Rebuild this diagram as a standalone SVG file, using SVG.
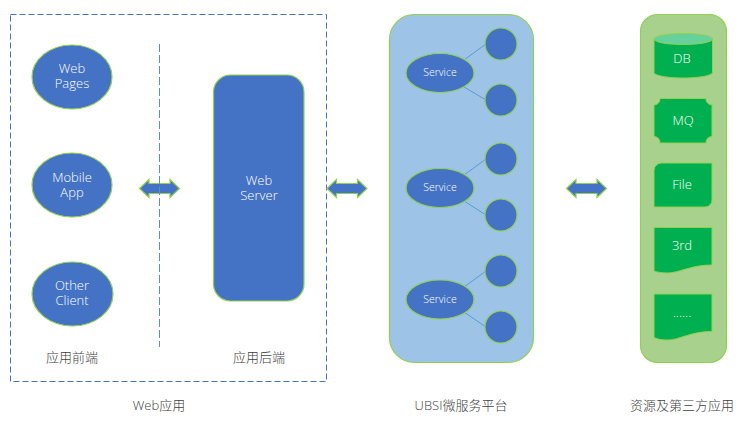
<svg xmlns="http://www.w3.org/2000/svg" width="743" height="425" viewBox="0 0 743 425">
<style>
text{font-family:"Open Sans","Noto Sans CJK SC",sans-serif;font-weight:300;text-anchor:middle;font-size:13px;fill:#fff}
.cap{fill:#404040;font-size:13px}
.svc{font-size:10.5px}
.b{fill:#4472c4;stroke:#92d050;stroke-width:1.2}
.g{fill:#00b050;stroke:#92d050;stroke-width:1}
.dash{fill:none;stroke:#4472c4;stroke-width:1;stroke-dasharray:6 3}
.conn{stroke:#5b9bd5;stroke-width:1;fill:none}
</style>
<g id="web-app-frame"><rect class="dash" x="10.500" y="14.500" width="316" height="367"/></g>
<g id="web-pages"><ellipse class="b" cx="72" cy="77" rx="40" ry="32"/><text x="72" y="73">Web<tspan x="72" y="88">Pages</tspan></text></g>
<g id="mobile-app"><ellipse class="b" cx="72" cy="185" rx="40" ry="32"/><text x="72" y="182">Mobile<tspan x="72" y="197">App</tspan></text></g>
<g id="other-client"><ellipse class="b" cx="72.500" cy="294" rx="40.500" ry="32"/><text x="72" y="290">Other<tspan x="72" y="305">Client</tspan></text></g>
<g id="web-server"><rect class="b" x="213.500" y="75" width="90.500" height="226" rx="17"/><text x="259" y="185">Web<tspan x="259" y="200">Server</tspan></text></g>
<g id="arrow-front-back"><path class="b" d="M139.500 188.500L149 179.500V183.500H170V179.500L179.500 188.500L170 197.500V193.500H149V197.500Z"/></g>
<g id="arrow-web-ubsi"><path class="b" d="M327 188.500L336.500 179.500V183.500H357.500V179.500L367 188.500L357.500 197.500V193.500H336.500V197.500Z"/></g>
<g id="arrow-ubsi-res"><path class="b" d="M566.500 188.500L576 179.500V183.500H597V179.500L606.500 188.500L597 197.500V193.500H576V197.500Z"/></g>
<g id="ubsi-panel"><rect x="389.500" y="14.500" width="144" height="348" rx="25" fill="#9dc3e6" stroke="#92d050" stroke-width="1.200"/></g>
<g id="connectors">
<path d="M159.500 44V347" fill="none" stroke="#5b8fc9" stroke-width="1" stroke-dasharray="8 3"/>
<path class="conn" d="M464 60L486 44M464 87L486 100M464 175L486 159M464 201L486 215M464 287L486 271M464 312L486 327"/>
</g>
<g id="service-1"><ellipse class="b" cx="440" cy="73" rx="34" ry="19.500"/><text class="svc" x="440" y="76">Service</text></g>
<g id="service-1a"><circle class="b" cx="501" cy="44" r="16"/></g>
<g id="service-1b"><circle class="b" cx="501" cy="100" r="16"/></g>
<g id="service-2"><ellipse class="b" cx="440" cy="188" rx="34" ry="19.500"/><text class="svc" x="440" y="191">Service</text></g>
<g id="service-2a"><circle class="b" cx="501" cy="159" r="16"/></g>
<g id="service-2b"><circle class="b" cx="501" cy="215" r="16"/></g>
<g id="service-3"><ellipse class="b" cx="440" cy="299.500" rx="34" ry="19.500"/><text class="svc" x="440" y="303">Service</text></g>
<g id="service-3a"><circle class="b" cx="501" cy="271" r="16"/></g>
<g id="service-3b"><circle class="b" cx="501" cy="327" r="16"/></g>
<g id="resource-panel"><rect x="640.500" y="14.500" width="86" height="348" rx="17" fill="#a9d18e" stroke="#92d050" stroke-width="1.200"/></g>
<g id="db"><path class="g" d="M654 39V72.500C654 75.500 667 78 683 78S712.500 75.500 712.500 72.500V39Z"/><ellipse cx="683.250" cy="39" rx="29.250" ry="5.500" fill="#66d19b" stroke="#92d050"/><text x="682" y="63">DB</text></g>
<g id="mq"><path class="g" d="M660 98.500H706A6 6 0 0 0 712 105V136.500A6 6 0 0 0 706 143H660A6 6 0 0 0 654 136.500V105A6 6 0 0 0 660 98.500Z"/><text x="683" y="125">MQ</text></g>
<g id="file"><path class="g" d="M661.500 163H712V200A7 7 0 0 1 705 207H654V170.500A7.500 7.500 0 0 1 661.500 163Z"/><text x="682" y="189">File</text></g>
<g id="third"><path class="g" d="M654 227.500H712V265C690 265 680 273 667 273C661 273 657 272 654 271Z"/><text x="682" y="250">3rd</text></g>
<g id="more"><path class="g" d="M654 294H712V331.500C690 331.500 680 340 667 340C661 340 657 339 654 337.500Z"/><text x="682" y="317">......</text></g>
<g id="captions">
<text class="cap" x="72" y="362">应用前端</text>
<text class="cap" x="259" y="362">应用后端</text>
<text class="cap" x="159" y="410">Web应用</text>
<text class="cap" x="461" y="410">UBSI微服务平台</text>
<text class="cap" x="682" y="410">资源及第三方应用</text>
</g>
</svg>
